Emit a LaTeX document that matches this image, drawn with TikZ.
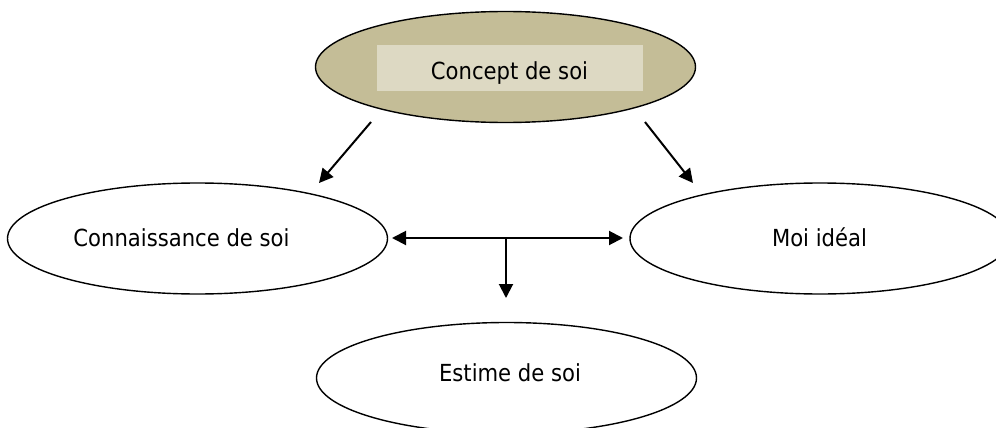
\documentclass[tikz,border=0pt]{standalone}
\usepackage{fontspec}
\setmainfont{DejaVu Sans Condensed}
\usetikzlibrary{shapes.geometric,arrows.meta}
\definecolor{tanfill}{HTML}{C4BD97}
\definecolor{tanbox}{HTML}{DDD9C3}
\tikzset{
  oval/.style={ellipse, draw=black, line width=1.4pt, minimum width=380pt, minimum height=111pt, inner sep=0pt},
  lbl/.style={anchor=base, inner sep=0pt, font=\fontsize{23.5}{28}\selectfont},
  conn/.style={line width=2pt, -{Triangle[length=14pt,width=14pt]}},
  conn2/.style={line width=2pt, {Triangle[length=14pt,width=14pt]}-{Triangle[length=14pt,width=14pt]}}
}
\begin{document}
\begin{tikzpicture}[x=1pt,y=-1pt]
\useasboundingbox (0,0) rectangle (996,428);
\clip (0,0) rectangle (996,428);
\fill[white] (0,0) rectangle (996,428);
% ellipses
\node[oval, fill=tanfill] (concept) at (505.5,67) {};
\node[draw=none, fill=tanbox, minimum width=266pt, minimum height=46pt, inner sep=0pt] (cbox) at (510,68) {};
\node[oval] (conn) at (197.5,238.5) {};
\node[oval] (moi) at (820,238.5) {};
\node[oval] (estime) at (506.5,378) {};
% labels
\node[lbl] (tconcept) at (509.5,80) {Concept de soi};
\node[lbl] (tconn) at (181.5,246) {Connaissance de soi};
\node[lbl] (tmoi) at (819.5,246) {Moi idéal};
\node[lbl] (testime) at (510,381) {Estime de soi};
% connector end points
\coordinate (l1) at (371,122);
\coordinate (l2) at (319,183);
\coordinate (r1) at (645,122);
\coordinate (r2) at (693,183);
\coordinate (h1) at (392,238);
\coordinate (h2) at (623,238);
\coordinate (v1) at (506,238);
\coordinate (v2) at (506,298);
\draw[conn] (l1) -- (l2);
\draw[conn] (r1) -- (r2);
\draw[conn2] (h1) -- (h2);
\draw[conn] (v1) -- (v2);
\end{tikzpicture}
\end{document}
